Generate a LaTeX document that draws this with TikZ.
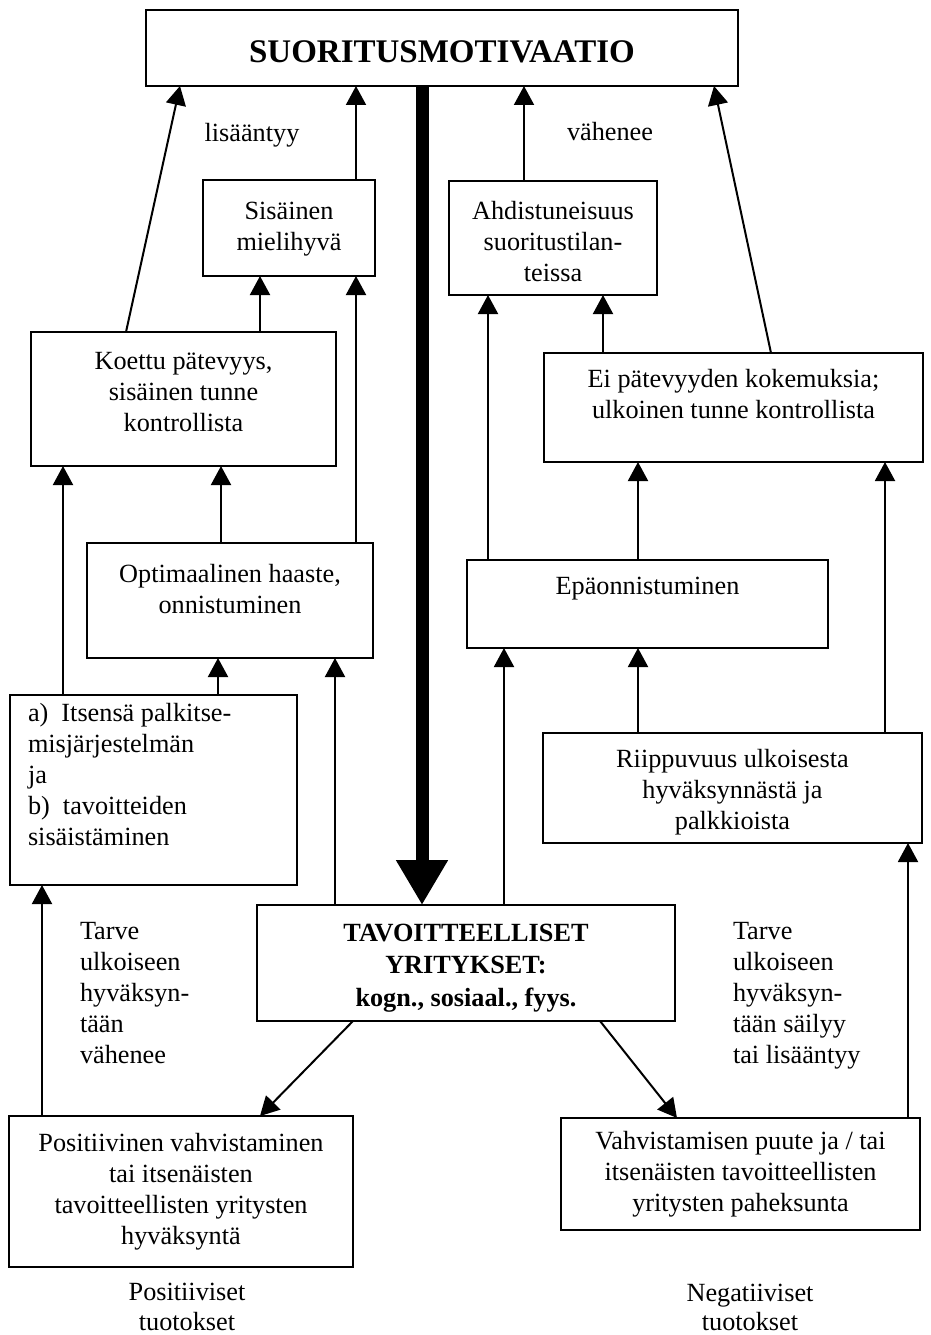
\documentclass[tikz,border=0pt]{standalone}
\usepackage{fontspec}
\setmainfont{Liberation Serif}
\usetikzlibrary{arrows.meta}
\newcommand\bxt[4]{\parbox[c][#2pt][t]{#1pt}{\centering\rule{0pt}{#3pt}#4}}
\tikzset{
  bx/.style={draw, line width=2.2pt, inner sep=0pt, outer sep=0pt, anchor=north west},
  lbl/.style={inner sep=0pt, outer sep=0pt},
  arr/.style={line width=2pt, -{Triangle[length=19pt,width=20pt]}},
  fat/.style={line width=13pt, -{Triangle[length=45pt,width=49pt]}},
}
\begin{document}
\begin{tikzpicture}[x=1pt, y=-1pt, font=\fontsize{26.25}{31}\selectfont]
\useasboundingbox (0,0) rectangle (930,1335);

% boxes
\node[bx] (title) at (146,10) {\parbox[c][76pt][t]{592pt}{\centering\rule{0pt}{53pt}\fontsize{33}{38}\selectfont\bfseries SUORITUSMOTIVAATIO}};
\node[bx] (sis) at (203,180) {\bxt{172}{96}{39}{Sisäinen\\mielihyvä}};
\node[bx] (ahd) at (449,181) {\bxt{208}{114}{38}{Ahdistuneisuus\\suoritustilan-\\teissa}};
\node[bx] (koe) at (31,332) {\bxt{305}{134}{37}{Koettu pätevyys,\\sisäinen tunne\\kontrollista}};
\node[bx] (eip) at (544,353) {\bxt{379}{109}{34}{Ei pätevyyden kokemuksia;\\ulkoinen tunne kontrollista}};
\node[bx] (opt) at (87,543) {\bxt{286}{115}{39}{Optimaalinen haaste,\\onnistuminen}};
\node[bx] (epa) at (467,560) {\bxt{361}{88}{34}{Epäonnistuminen}};
\node[bx] (its) at (10,695) {\parbox[c][190pt][t]{287pt}{\raggedright\leftskip=18pt\relax\rule{0pt}{26pt}a)\hspace{0.5em}Itsensä palkitse-\\misjärjestelmän\\ja\\b)\hspace{0.5em}tavoitteiden\\sisäistäminen}};
\node[bx] (riip) at (543,733) {\bxt{379}{110}{34}{Riippuvuus ulkoisesta\\hyväksynnästä ja\\palkkioista}};
\node[bx] (tav) at (257,905) {\parbox[c][116pt][t]{418pt}{\centering\bfseries\fontsize{26.25}{32.5}\selectfont\rule{0pt}{36pt}TAVOITTEELLISET\\YRITYKSET:\\kogn., sosiaal., fyys.}};
\node[bx] (pos) at (9,1116) {\bxt{344}{151}{35}{Positiivinen vahvistaminen\\tai itsenäisten\\tavoitteellisten yritysten\\hyväksyntä}};
\node[bx] (vah) at (561,1118) {\bxt{359}{112}{31}{Vahvistamisen puute ja / tai\\itsenäisten tavoitteellisten\\yritysten paheksunta}};

% free labels
\node[lbl, anchor=base] (lis) at (252,141) {lisääntyy};
\node[lbl, anchor=base] (vahe) at (610,140) {vähenee};
\node[lbl, anchor=base west] (tarvel) at (80,939) {\parbox[t]{150pt}{\raggedright Tarve\\ulkoiseen\\hyväksyn-\\tään\\vähenee}};
\node[lbl, anchor=base west] (tarver) at (733,939) {\parbox[t]{190pt}{\raggedright Tarve\\ulkoiseen\\hyväksyn-\\tään säilyy\\tai lisääntyy}};
\node[lbl, anchor=base] (posl) at (187,1300) {\parbox[t]{220pt}{\centering\fontsize{26.25}{30}\selectfont Positiiviset\\tuotokset}};
\node[lbl, anchor=base] (negl) at (750,1301) {\parbox[t]{220pt}{\centering\fontsize{26.25}{29}\selectfont Negatiiviset\\tuotokset}};

% columns
\foreach \c in {42,63,126,180,218,221,260,335,353,356,422,488,504,524,600,603,638,677,714,771,885,908}
  \coordinate (x\c) at (\c,0);

% connectors
\draw[arr] (koe.north -| x126) -- (title.south -| x180);
\draw[arr] (sis.north -| x356) -- (title.south -| x356);
\draw[fat] (title.south -| x422) -- (tav.north -| x422);
\draw[arr] (ahd.north -| x524) -- (title.south -| x524);
\draw[arr] (eip.north -| x771) -- (title.south -| x714);
\draw[arr] (koe.north -| x260) -- (sis.south -| x260);
\draw[arr] (opt.north -| x356) -- (sis.south -| x356);
\draw[arr] (opt.north -| x221) -- (koe.south -| x221);
\draw[arr] (its.north -| x63) -- (koe.south -| x63);
\draw[arr] (its.north -| x218) -- (opt.south -| x218);
\draw[arr] (tav.north -| x335) -- (opt.south -| x335);
\draw[arr] (tav.north -| x504) -- (epa.south -| x504);
\draw[arr] (epa.north -| x488) -- (ahd.south -| x488);
\draw[arr] (eip.north -| x603) -- (ahd.south -| x603);
\draw[arr] (epa.north -| x638) -- (eip.south -| x638);
\draw[arr] (riip.north -| x638) -- (epa.south -| x638);
\draw[arr] (riip.north -| x885) -- (eip.south -| x885);
\draw[arr] (vah.north -| x908) -- (riip.south -| x908);
\draw[arr] (pos.north -| x42) -- (its.south -| x42);
\draw[arr] (tav.south -| x353) -- (pos.north -| x260);
\draw[arr] (tav.south -| x600) -- (vah.north -| x677);
\end{tikzpicture}
\end{document}
